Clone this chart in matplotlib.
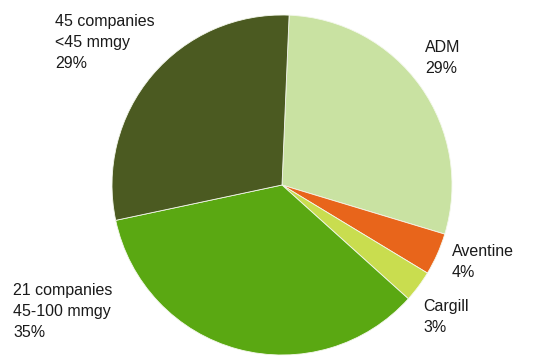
import matplotlib
matplotlib.use('Agg')
import matplotlib.pyplot as plt

# Share of ethanol capacity
labels = ['ADM\n29%', 'Aventine\n4%', 'Cargill\n3%',
          '21 companies\n45-100 mmgy\n35%', '45 companies\n<45 mmgy\n29%']
shares = [29, 4, 3, 35, 29]
colors = ['#c9e2a2', '#e8651b', '#c9dd4f', '#5aa812', '#4b5a21']

W, H = 536, 356
cx, cy, r = 282, 185, 170  # pie centre and radius in pixels

fig = plt.figure(figsize=(W / 100, H / 100), dpi=100)
ax = fig.add_axes([0, 0, 1, 1])
ax.pie(shares, colors=colors, startangle=87.6, counterclock=False,
       radius=1.0, wedgeprops=dict(linewidth=0.6, edgecolor='#f4f8ec'))
ax.set_xlim(-cx / r, (W - cx) / r)
ax.set_ylim((cy - H) / r, cy / r)
ax.axis('off')


def px(x, y):
    return (x - cx) / r, (cy - y) / r


# label positions (top-left corner, pixels)
label_pos = [(425, 40), (452, 244), (423, 299), (13, 283), (55, 14)]
for lab, (x, y) in zip(labels, label_pos):
    tx, ty = px(x, y)
    ax.text(tx, ty, lab, ha='left', va='top', fontsize=11.5,
            family='Liberation Sans', color='#1a1a1a', linespacing=1.5)

fig.savefig('out.png', dpi=100)
